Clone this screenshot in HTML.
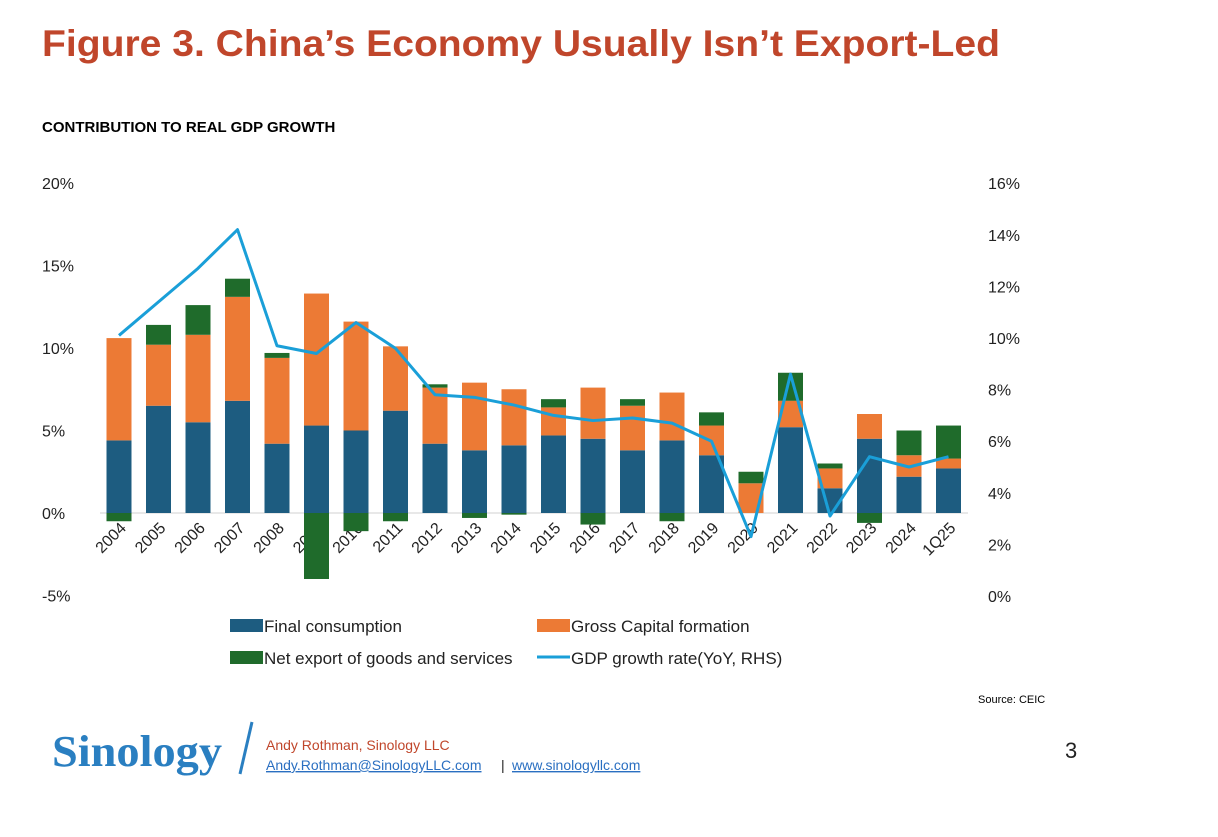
<!DOCTYPE html>
<html><head><meta charset="utf-8"><style>
body{margin:0;background:#fff;width:1218px;height:832px;overflow:hidden;font-family:"Liberation Sans",sans-serif}
</style></head><body>
<svg width="1218" height="832" id="svg" font-family="Liberation Sans, sans-serif">
<text x="42" y="56" font-size="37" font-weight="bold" fill="#c0462b" textLength="958" lengthAdjust="spacingAndGlyphs">Figure 3. China’s Economy Usually Isn’t Export-Led</text>
<text x="42" y="132" font-size="15" font-weight="bold" fill="#000">CONTRIBUTION TO REAL GDP GROWTH</text>
<g id="axes"></g><g id="bars"></g><g id="line"></g>
<g font-size="17" fill="#222">
<rect x="230" y="619" width="33" height="13" fill="#1d5c80"/>
<text x="264" y="632">Final consumption</text>
<rect x="537" y="619" width="33" height="13" fill="#ec7a35"/>
<text x="571" y="632">Gross Capital formation</text>
<rect x="230" y="651" width="33" height="13" fill="#1f6b2b"/>
<text x="264" y="664">Net export of goods and services</text>
<line x1="537" y1="657" x2="570" y2="657" stroke="#1a9fd8" stroke-width="3"/>
<text x="571" y="664">GDP growth rate(YoY, RHS)</text>
</g>
<text x="978" y="703" font-size="11" fill="#000">Source: CEIC</text>
<text x="52" y="766" font-size="44" font-weight="bold" fill="#2a7fc1" font-family="Liberation Serif, serif" textLength="170" lengthAdjust="spacingAndGlyphs">Sinology</text>
<line x1="252" y1="722" x2="240" y2="774" stroke="#2a7fc1" stroke-width="3"/>
<text x="266" y="750" font-size="14" fill="#c0462b">Andy Rothman, Sinology LLC</text>
<text x="266" y="770" font-size="14" fill="#2a6fc1" text-decoration="underline">Andy.Rothman@SinologyLLC.com</text>
<text x="501" y="770" font-size="14" fill="#222">|</text>
<text x="512" y="770" font-size="14" fill="#2a6fc1" text-decoration="underline">www.sinologyllc.com</text>
<text x="1065" y="758" font-size="22" fill="#222">3</text>
</svg>
<script>
const categories=["2004","2005","2006","2007","2008","2009","2010","2011","2012","2013","2014","2015","2016","2017","2018","2019","2020","2021","2022","2023","2024","1Q25"];
const finalConsumption=[4.4,6.5,5.5,6.8,4.2,5.3,5.0,6.2,4.2,3.8,4.1,4.7,4.5,3.8,4.4,3.5,0.0,5.2,1.5,4.5,2.2,2.7];
const capitalFormation=[6.2,3.7,5.3,6.3,5.2,8.0,6.6,3.9,3.4,4.1,3.4,1.7,3.1,2.7,2.9,1.8,1.8,1.6,1.2,1.5,1.3,0.6];
const netExports=[-0.5,1.2,1.8,1.1,0.3,-4.0,-1.1,-0.5,0.2,-0.3,-0.1,0.5,-0.7,0.4,-0.5,0.8,0.7,1.7,0.3,-0.6,1.5,2.0];
const gdpGrowth=[10.1,11.4,12.7,14.2,9.7,9.4,10.6,9.6,7.8,7.7,7.4,7.0,6.8,6.9,6.7,6.0,2.3,8.6,3.1,5.4,5.0,5.4];
const leftTicks=[20,15,10,5,0,-5];
const rightTicks=[16,14,12,10,8,6,4,2,0];
const NS="http://www.w3.org/2000/svg";
const yL=v=>513-v*16.5;
const yR=v=>596-v*25.8;
const xC=i=>119+i*39.5;
function mk(tag,attrs,parent){const e=document.createElementNS(NS,tag);for(const k in attrs)e.setAttribute(k,attrs[k]);parent.appendChild(e);return e;}
const axes=document.getElementById('axes'),bars=document.getElementById('bars'),line=document.getElementById('line');
leftTicks.forEach(t=>{const e=mk('text',{x:42,y:yL(t)+6,'font-size':16,fill:'#222'},axes);e.textContent=t+'%';

});
rightTicks.forEach(t=>{const e=mk('text',{x:988,y:yR(t)+6,'font-size':16,fill:'#222'},axes);e.textContent=t+'%';

});
const base=mk('line',{x1:100,x2:968,y1:yL(0),y2:yL(0),stroke:'#d0d0d0'},axes);


const w=25;
categories.forEach((c,i)=>{
 const x=xC(i)-w/2;const fc=finalConsumption[i],gc=capitalFormation[i],nx=netExports[i];
 const r1=mk('rect',{x:x,y:yL(fc),width:w,height:Math.max(0,yL(0)-yL(fc)),fill:'#1d5c80'},bars);
 
 
 const r2=mk('rect',{x:x,y:yL(fc+gc),width:w,height:yL(fc)-yL(fc+gc),fill:'#ec7a35'},bars);
 
 
 let r3;
 if(nx>=0) r3=mk('rect',{x:x,y:yL(fc+gc+nx),width:w,height:yL(fc+gc)-yL(fc+gc+nx),fill:'#1f6b2b'},bars);
 else r3=mk('rect',{x:x,y:yL(0),width:w,height:yL(nx)-yL(0),fill:'#1f6b2b'},bars);
 
 
 const tx=xC(i)+8,ty=529;
 const lb=mk('text',{x:tx,y:ty,'font-size':16,fill:'#222','text-anchor':'end',transform:`rotate(-45 ${tx} ${ty})`},axes);
 lb.textContent=c;
 
 
});
const pts=gdpGrowth.map((v,i)=>xC(i)+','+yR(v)).join(' ');
const pl=mk('polyline',{points:pts,fill:'none',stroke:'#1a9fd8','stroke-width':3,'stroke-linejoin':'round'},line);


</script>
</body></html>
